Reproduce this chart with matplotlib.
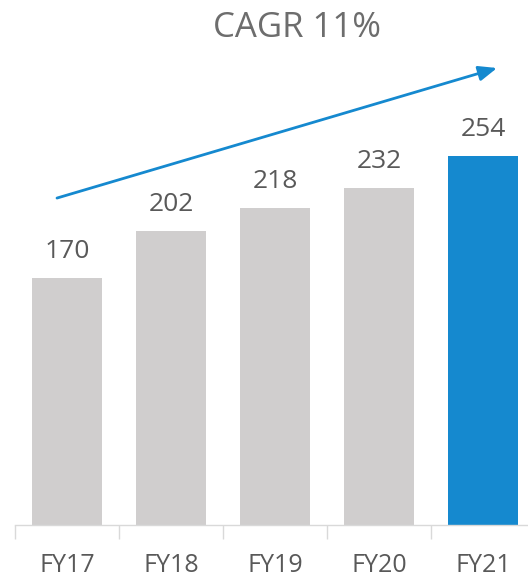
import matplotlib
matplotlib.use("Agg")
import matplotlib.pyplot as plt

categories = ["FY17", "FY18", "FY19", "FY20", "FY21"]
values = [170, 202, 218, 232, 254]
title_text = "CAGR 11%"

gray = "#d0cece"
blue = "#1589cf"
colors = [gray, gray, gray, gray, blue]

plt.rcParams['font.family'] = ['Open Sans', 'DejaVu Sans']

W, H = 528, 577
fig = plt.figure(figsize=(W / 100, H / 100), dpi=100)
left_px, right_px = 15, 535
base_px = 525
ax = fig.add_axes([left_px / W, (H - base_px) / H, (right_px - left_px) / W, base_px / H])

x = list(range(len(categories)))
ax.bar(x, values, width=0.67, color=colors, zorder=2)
ax.set_xlim(-0.5, len(categories) - 0.5)
ax.set_ylim(0, 361.3)

for xi, v in zip(x, values):
    ax.text(xi, v + 13.8, str(v), ha="center", va="baseline", fontsize=19, color="#595959")

ax.set_xticks(x)
ax.set_xticklabels(categories, fontsize=18, color="#595959")
ax.tick_params(axis="x", length=0, pad=20)
ax.set_xticks([i - 0.5 for i in range(len(categories) + 1)], minor=True)
ax.tick_params(axis="x", which="minor", length=10, width=1, color="#d9d9d9")
ax.set_yticks([])
for s in ["left", "right", "top"]:
    ax.spines[s].set_visible(False)
ax.spines["bottom"].set_color("#d9d9d9")
ax.spines["bottom"].set_linewidth(1)

ax.annotate("", xy=(4.135, 314.5), xytext=(-0.096, 225),
            arrowprops=dict(arrowstyle="-|>,head_length=1.1,head_width=0.45", color=blue, lw=2,
                            shrinkA=0, shrinkB=0))

fig.text(297 / W, 1 - 37 / H, title_text, ha="center", va="baseline", fontsize=25, color="#6d6d6d")

fig.savefig("out.png", dpi=100)
